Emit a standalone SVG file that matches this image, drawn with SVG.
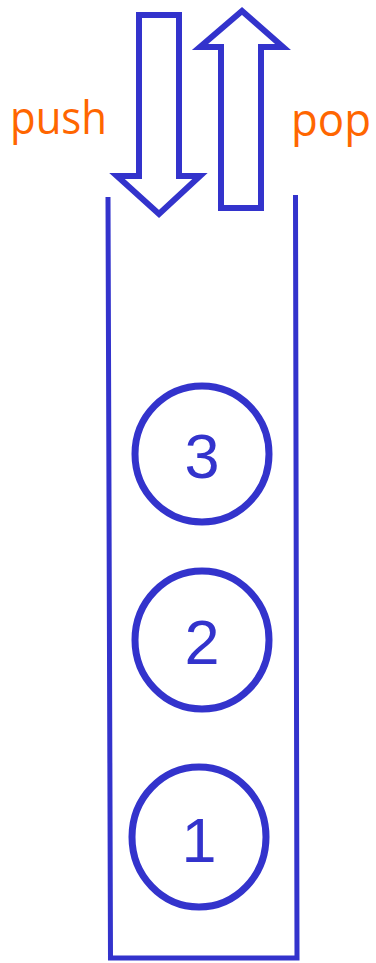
<svg xmlns="http://www.w3.org/2000/svg" width="376" height="963" viewBox="0 0 376 963">
<style>
.ln{fill:none;stroke:#3333CC;stroke-width:5;stroke-linejoin:miter}
.arr{fill:#fff;stroke:#3333CC;stroke-width:6;stroke-linejoin:miter}
.ring{fill:#fff;stroke:#3333CC;stroke-width:7}
.lbl{font-family:"Open Sans","Liberation Sans",sans-serif;font-size:46px;font-weight:500;fill:#FF6600}
.num{font-family:"Liberation Sans",Arial,sans-serif;font-size:63px;fill:#3333CC;text-anchor:middle}
</style>
<rect width="376" height="963" fill="#fff"/>
<g id="stack">
<path class="ln" d="M108,197 L110.5,958 L297,958 L295.5,195"/>
</g>
<g id="push">
<path class="arr" d="M139,15 H179 V176 H200 L159,214 L117,176 H139 Z"/>
<text class="lbl" x="10" y="134" textLength="97" lengthAdjust="spacingAndGlyphs">push</text>
</g>
<g id="pop">
<path class="arr" d="M221,208 H261 V47 H283 L242,11 L200,47 H221 Z"/>
<text class="lbl" x="291" y="136" textLength="80" lengthAdjust="spacingAndGlyphs">pop</text>
</g>
<g id="item3">
<ellipse class="ring" cx="202" cy="454" rx="67" ry="68"/>
<text class="num" x="202" y="478">3</text>
</g>
<g id="item2">
<ellipse class="ring" cx="202" cy="640" rx="67" ry="69"/>
<text class="num" x="202" y="664">2</text>
</g>
<g id="item1">
<ellipse class="ring" cx="199" cy="837" rx="67" ry="70"/>
<text class="num" x="199" y="862">1</text>
</g>
<g id="connectors"></g>
</svg>
